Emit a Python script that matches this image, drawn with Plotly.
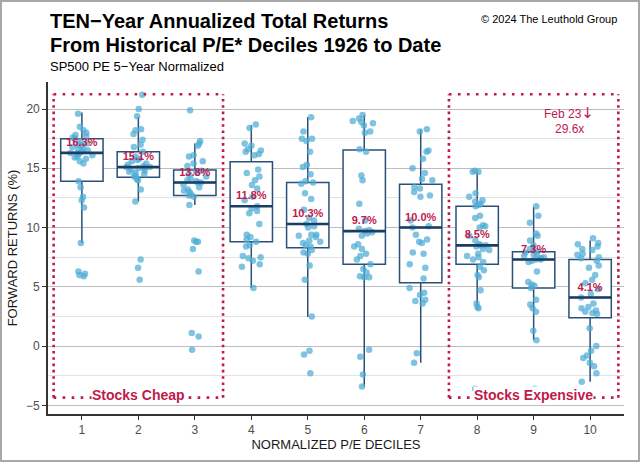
import plotly.graph_objects as go

# ---------------- data ----------------
deciles = [1, 2, 3, 4, 5, 6, 7, 8, 9, 10]
tick_labels = ["1", "2", "3", "4", "5", "6", "7", "8", "9", "10"]
medians = [16.3, 15.1, 13.8, 11.8, 10.3, 9.7, 10.0, 8.5, 7.3, 4.1]
q1 = [13.9, 14.25, 12.7, 8.8, 8.3, 6.9, 5.35, 6.9, 4.9, 2.4]
q3 = [17.5, 16.4, 14.85, 15.55, 13.8, 16.55, 13.65, 11.8, 7.95, 7.3]
lower_whisker = [8.7, 12.2, 11.9, 4.9, 2.45, -3.4, -1.4, 3.2, 0.5, -3.0]
upper_whisker = [19.7, 19.35, 17.1, 18.65, 19.3, 19.5, 18.3, 14.75, 11.75, 8.9]
median_labels = ["16.3%", "15.1%", "13.8%", "11.8%", "10.3%", "9.7%", "10.0%", "8.5%", "7.3%", "4.1%"]

returns_d1 = [19.6, 18.5, 18.2, 18.0, 17.8, 17.7, 17.6, 17.5, 17.3, 17.1, 17.0, 16.9, 16.8, 16.7,
              16.6, 16.5, 16.4, 16.3, 16.3, 16.2, 16.1, 16.0, 15.9, 15.8, 15.6, 15.4, 13.9, 13.4,
              12.6, 12.3, 11.7, 8.7, 6.3, 6.1, 6.0, 5.9]
returns_d2 = [21.2, 20.0, 19.4, 18.3, 18.2, 17.9, 17.4, 17.0, 16.8, 16.4, 16.0, 15.8, 15.7, 15.6,
              15.4, 15.3, 15.2, 15.1, 15.1, 15.0, 15.0, 14.9, 14.8, 14.7, 14.6, 14.5, 14.4, 14.3,
              14.1, 14.0, 13.2, 12.2, 7.3, 6.6, 5.6]
returns_d3 = [19.9, 17.3, 17.1, 16.9, 16.1, 16.0, 15.6, 15.4, 15.2, 14.8, 14.7, 14.5, 14.3, 14.1,
              14.0, 13.9, 13.8, 13.8, 13.6, 13.4, 13.2, 13.1, 13.0, 12.8, 12.7, 12.6, 11.9, 8.9,
              8.8, 8.8, 8.2, 6.3, 1.1, 0.8, -0.3]
returns_d4 = [18.7, 18.4, 17.1, 16.9, 16.6, 16.5, 16.4, 16.2, 16.1, 14.9, 14.6, 14.3, 14.0, 13.6,
              13.3, 12.6, 12.3, 11.8, 11.6, 11.4, 11.2, 10.3, 9.4, 9.2, 9.0, 8.8, 8.5, 8.4, 7.6,
              7.5, 7.4, 7.2, 6.9, 6.7, 4.9]
returns_d5 = [19.3, 18.1, 17.5, 17.5, 17.3, 16.4, 15.3, 15.1, 14.5, 13.9, 13.8, 13.7, 12.9, 12.4,
              11.5, 10.8, 10.6, 10.3, 10.1, 10.0, 9.4, 9.4, 9.3, 9.2, 8.9, 8.8, 8.7, 8.5, 8.4, 8.1,
              7.9, 7.8, 6.8, 5.6, 2.5, -0.4, -0.7, -2.3]
returns_d6 = [19.5, 19.2, 19.0, 18.9, 18.8, 18.6, 18.1, 18.0, 16.6, 16.4, 14.4, 14.0, 12.0, 10.6,
              9.9, 9.8, 9.7, 9.6, 9.5, 9.3, 8.6, 8.4, 8.2, 7.8, 7.6, 7.3, 6.9, 6.5, 6.2, 5.9, 5.8,
              5.8, -0.3, -0.9, -2.4, -3.4]
returns_d7 = [18.3, 18.1, 16.5, 16.4, 15.8, 15.0, 14.6, 14.1, 14.0, 13.4, 13.3, 13.0, 12.7, 12.6,
              10.6, 10.1, 10.0, 9.4, 9.0, 8.8, 8.7, 7.9, 7.8, 6.9, 6.6, 5.7, 4.9, 4.5, 4.3, 3.9,
              3.8, 3.6, -0.6, -1.4]
returns_d8 = [14.8, 14.7, 14.7, 12.9, 12.6, 12.3, 12.2, 12.0, 11.9, 11.8, 11.0, 10.8, 10.2, 10.1,
              10.0, 9.3, 8.9, 8.6, 8.5, 8.5, 8.4, 8.2, 8.1, 7.8, 7.6, 7.5, 7.3, 7.1, 6.7, 6.4, 6.0,
              5.8, 4.7, 3.6, 3.3, 3.2, -3.6]
returns_d9 = [11.8, 11.0, 10.4, 9.5, 9.3, 8.9, 8.5, 8.2, 8.0, 7.9, 7.8, 7.7, 7.6, 7.5, 7.4, 7.4,
              7.3, 7.3, 7.2, 7.1, 6.3, 5.4, 5.2, 5.1, 4.9, 3.9, 3.5, 3.2, 2.9, 1.3, 0.5, -3.6, -4.4]
returns_d10 = [9.1, 8.7, 8.6, 8.4, 8.2, 8.1, 7.8, 7.7, 7.5, 7.4, 7.2, 6.8, 6.6, 6.0, 5.6, 5.3,
               4.8, 4.4, 4.1, 3.6, 3.3, 3.2, 3.0, 2.9, 2.8, 2.7, 1.5, 0.0, -0.4, -0.8, -1.0, -1.4,
               -1.7, -2.3, -3.0]

all_returns = [returns_d1, returns_d2, returns_d3, returns_d4, returns_d5,
               returns_d6, returns_d7, returns_d8, returns_d9, returns_d10]

# ---------------- layout constants ----------------
W, H = 640, 462
ML, MR, MT, MB = 48, 16, 82, 48
PW, PH = W - ML - MR, H - MT - MB
Y_RANGE = [-5.73, 22.28]
X_RANGE = [0.4, 10.6]
BOX_W = 0.75
FONT = "Liberation Sans, Arial, sans-serif"
RED = "#BF1A4C"
NAVY = "#2A5078"
NAVY_DARK = "#1B3C63"
DOT_BLUE = "rgba(77,172,214,0.72)"


def xp(px):
    return (px - ML) / PW


def yp(py):
    return (H - MB - py) / PH


pts_x = [d for d, vals in zip(deciles, all_returns) for _ in vals]
pts_y = [v for vals in all_returns for v in vals]

fig = go.Figure()

# boxes from summary statistics
fig.add_trace(go.Box(
    x=deciles, q1=q1, median=medians, q3=q3,
    lowerfence=lower_whisker, upperfence=upper_whisker,
    boxpoints=False, width=BOX_W, whiskerwidth=0,
    fillcolor="white", line=dict(color=NAVY, width=1.5),
    hoverinfo="skip", showlegend=False,
))

# thicker median bars (line-ew symbol is drawn 1.4x its size)
px_per_unit = PW / (X_RANGE[1] - X_RANGE[0])
fig.add_trace(go.Scatter(
    x=deciles, y=medians, mode="markers",
    marker=dict(symbol="line-ew", size=BOX_W * px_per_unit / 1.4,
                line=dict(color=NAVY_DARK, width=2.6)),
    hoverinfo="skip", showlegend=False,
))

# jittered observations
fig.add_trace(go.Box(
    x=pts_x, y=pts_y, boxpoints="all", jitter=0.62, pointpos=0,
    width=BOX_W, fillcolor="rgba(0,0,0,0)", line=dict(color="rgba(0,0,0,0)", width=0),
    marker=dict(color=DOT_BLUE, size=6.5, line=dict(width=0)),
    hoveron="points", showlegend=False,
))

# median labels (invisible marker pushes the text slightly above the median bar)
fig.add_trace(go.Scatter(
    x=deciles, y=medians, mode="markers+text", text=median_labels,
    textposition="top center",
    marker=dict(size=5, color="rgba(0,0,0,0)"),
    textfont=dict(family=FONT, size=11, color=RED, weight="bold"),
    hoverinfo="skip", showlegend=False,
))

# dotted zones
zones_x = [(0.5, 3.5), (7.5, 10.5)]
zone_y = (-4.35, 21.25)
shapes = []
for x0, x1 in zones_x:
    for yv in zone_y:
        shapes.append(dict(type="line", xref="x", yref="y", x0=x0, x1=x1, y0=yv, y1=yv,
                           line=dict(color=RED, width=2.6, dash="2.6px,6.4px"), layer="above"))
    for xv in (x0, x1):
        shapes.append(dict(type="line", xref="x", yref="y", x0=xv, x1=xv,
                           y0=zone_y[0], y1=zone_y[1],
                           line=dict(color=RED, width=2.6, dash="2.6px,3.7px"), layer="above"))
# outer frame
shapes.append(dict(type="rect", xref="paper", yref="paper",
                   x0=xp(1), x1=xp(W - 1), y0=yp(H - 1), y1=yp(1),
                   line=dict(color="#A8A8A8", width=2), fillcolor="rgba(0,0,0,0)", layer="below"))

annotations = [
    dict(text="TEN\u2212Year Annualized Total Returns", xref="paper", yref="paper",
         x=0, y=yp(21), xanchor="left", yanchor="middle", showarrow=False,
         font=dict(family=FONT, size=20, color="black", weight="bold")),
    dict(text="From Historical P/E* Deciles 1926 to Date", xref="paper", yref="paper",
         x=0, y=yp(45), xanchor="left", yanchor="middle", showarrow=False,
         font=dict(family=FONT, size=20, color="black", weight="bold")),
    dict(text="SP500 PE 5\u2212Year Normalized", xref="paper", yref="paper",
         x=0, y=yp(66), xanchor="left", yanchor="middle", showarrow=False,
         font=dict(family=FONT, size=13, color="black")),
    dict(text="\u00a9 2024 The Leuthold Group", xref="paper", yref="paper",
         x=xp(619), y=yp(19), xanchor="right", yanchor="middle", showarrow=False,
         font=dict(family=FONT, size=11, color="black")),
    dict(text="Stocks Cheap", xref="x", yref="y", x=2, y=zone_y[0] + 0.25,
         xanchor="center", yanchor="middle", showarrow=False, bgcolor="white", borderpad=0,
         font=dict(family=FONT, size=14, color=RED, weight="bold")),
    dict(text="Stocks Expensive", xref="x", yref="y", x=9, y=zone_y[0] + 0.25,
         xanchor="center", yanchor="middle", showarrow=False, bgcolor="white", borderpad=0,
         font=dict(family=FONT, size=14, color=RED, weight="bold")),
    dict(text="Feb 23<span style='font-family:DejaVu Sans;font-size:15px'>\u2193</span>",
         xref="x", yref="y", x=9.62, y=19.7, xanchor="center", yanchor="middle",
         showarrow=False, font=dict(family=FONT, size=12, color=RED)),
    dict(text="29.6x", xref="x", yref="y", x=9.63, y=18.3,
         xanchor="center", yanchor="middle", showarrow=False,
         font=dict(family=FONT, size=12, color=RED)),
]

fig.update_layout(
    width=W, height=H, margin=dict(l=ML, r=MR, t=MT, b=MB, autoexpand=False),
    paper_bgcolor="white", plot_bgcolor="white",
    boxmode="overlay", showlegend=False,
    font=dict(family=FONT, color="#4D4D4D"),
    shapes=shapes, annotations=annotations,
    xaxis=dict(range=X_RANGE, tickvals=deciles, ticktext=tick_labels,
               showgrid=False, zeroline=False, showline=True, linecolor="#333333", linewidth=1.6,
               ticks="outside", ticklen=4, tickcolor="#333333", tickwidth=1,
               tickfont=dict(family=FONT, size=12, color="#4D4D4D"),
               title=dict(text="NORMALIZED P/E DECILES", standoff=1,
                          font=dict(family=FONT, size=13, color="#1A1A1A")),
               automargin=False),
    yaxis=dict(range=Y_RANGE, tickvals=[-5, 0, 5, 10, 15, 20],
               showgrid=True, gridcolor="#BDBDBD", gridwidth=1.2,
               minor=dict(tickvals=[-2.5, 2.5, 7.5, 12.5, 17.5], showgrid=True,
                          gridcolor="#E2E2E2", gridwidth=1, ticks=""),
               zeroline=False, showline=True, linecolor="#333333", linewidth=1.6,
               ticks="outside", ticklen=4, tickcolor="#333333", tickwidth=1,
               tickfont=dict(family=FONT, size=12, color="#4D4D4D"),
               title=dict(text="FORWARD RETURNS (%)", standoff=6,
                          font=dict(family=FONT, size=13, color="#1A1A1A")),
               automargin=False),
)

fig.write_html("out.html", config={"displayModeBar": False},
               post_script="document.body.style.margin='0';")
